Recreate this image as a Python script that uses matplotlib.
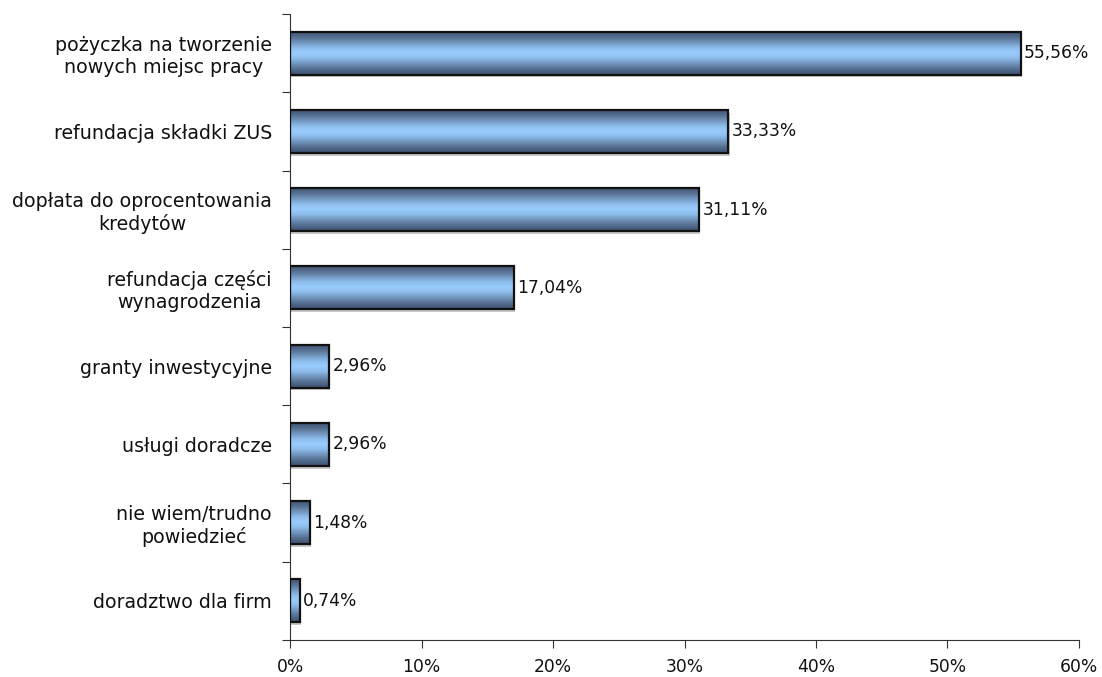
import matplotlib.pyplot as plt
import numpy as np
from matplotlib.colors import LinearSegmentedColormap
from matplotlib.patches import Rectangle

plt.rcParams["font.family"] = "DejaVu Sans"

categories = ['pożyczka na tworzenie\nnowych miejsc pracy',
              'refundacja składki ZUS',
              'dopłata do oprocentowania\nkredytów',
              'refundacja części\nwynagrodzenia',
              'granty inwestycyjne',
              'usługi doradcze',
              'nie wiem/trudno\npowiedzieć',
              'doradztwo dla firm']
values = [55.56, 33.33, 31.11, 17.04, 2.96, 2.96, 1.48, 0.74]

# dark edges, light middle -> tube look
tube = LinearSegmentedColormap.from_list('tube', [
    (0.0, '#3c4f6e'), (0.15, '#587293'), (0.38, '#8dbcea'), (0.5, '#99ccff'),
    (0.62, '#8dbcea'), (0.85, '#587293'), (1.0, '#3c4f6e')])

fig = plt.figure(figsize=(11.02, 6.77), dpi=100)
ax = fig.add_axes([0.2632, 0.0547, 0.9791 - 0.2632, 0.9793 - 0.0547])

n = len(categories)
ypos = np.arange(n)[::-1]
h = 0.55
grad = np.linspace(0, 1, 256).reshape(-1, 1)

for y, v in zip(ypos, values):
    # soft shadow under each bar
    ax.add_patch(Rectangle((0, y - h / 2 - 0.035), v + 0.1, h, facecolor='#c8c8c8',
                           edgecolor='none', zorder=1))
    ax.imshow(grad, cmap=tube, aspect='auto', extent=(0, v, y - h / 2, y + h / 2),
              zorder=2, interpolation='bicubic')
    ax.add_patch(Rectangle((0, y - h / 2), v, h, facecolor='none',
                           edgecolor='#111111', linewidth=1.6, zorder=3))
    ax.text(v + 0.25, y, '{:.2f}%'.format(v).replace('.', ','), va='center',
            ha='left', fontsize=12.3, color='#111111')

ax.set_xlim(0, 60)
ax.set_ylim(-0.5, n - 0.5)
ax.set_xticks(np.arange(0, 61, 10))
ax.set_xticklabels(['{}%'.format(t) for t in range(0, 61, 10)], fontsize=12.3)
ax.set_yticks(np.arange(-0.5, n, 1.0))
ax.set_yticklabels([])
ax.set_yticks(ypos, minor=True)
ax.set_yticklabels(categories, minor=True, fontsize=13.7, multialignment='center',
                   color='#111111')
ax.tick_params(axis='y', which='minor', length=0, pad=13)
ax.tick_params(axis='y', which='major', length=6, direction='out', color='#333333')
ax.tick_params(axis='x', length=6, direction='out', color='#333333', pad=7,
               labelcolor='#111111')
for s in ['top', 'right']:
    ax.spines[s].set_visible(False)
ax.spines['left'].set_color('#333333')
ax.spines['bottom'].set_color('#333333')

fig.savefig('out.png', dpi=100, facecolor='white')
